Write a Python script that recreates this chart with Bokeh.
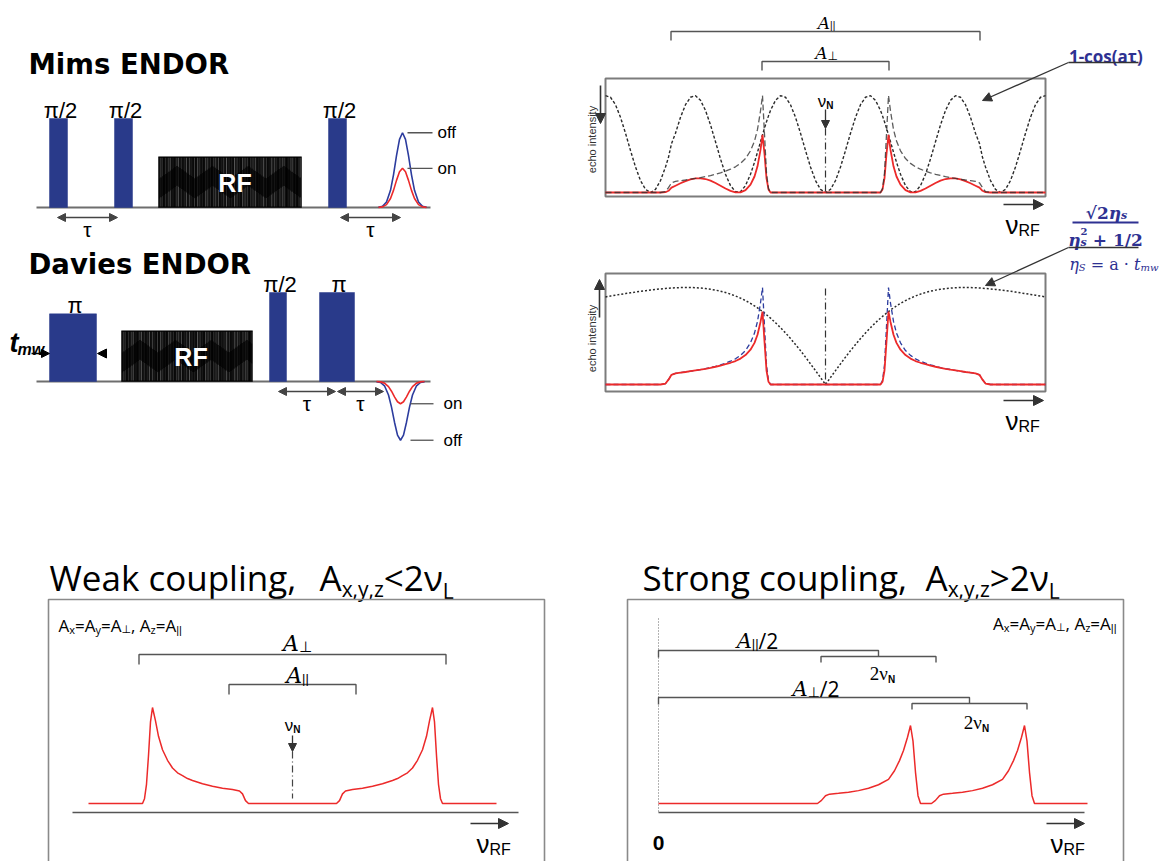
import math
import subprocess
from functools import lru_cache

import numpy as np
from bokeh.plotting import figure
from bokeh.models import Range1d, Arrow, NormalHead
from bokeh.core.properties import value
from bokeh.embed import file_html
from bokeh.resources import INLINE

# ============================== DATA ==============================
# Pulse sequences: time in a.u. from the start of each time axis,
# amplitudes relative to a pi/2 pulse.
MIMS_PULSE_LABEL = ["π/2", "π/2", "π/2"]
MIMS_PULSE_START = [13, 78, 292]
MIMS_PULSE_WIDTH = [18, 18, 18]
MIMS_PULSE_AMP = [1.0, 1.0, 1.0]
MIMS_RF_SPAN = [122, 265]
MIMS_RF_AMP = 0.57
MIMS_ECHO_TIME = 366
MIMS_ECHO_AMP = {"off": 0.84, "on": 0.44}
MIMS_TAU = [[21, 81], [304, 364]]

DAVIES_PULSE_LABEL = ["π", "π/2", "π"]
DAVIES_PULSE_START = [13, 233, 283]
DAVIES_PULSE_WIDTH = [47, 17, 35]
DAVIES_PULSE_AMP = [0.76, 1.0, 1.0]
DAVIES_RF_SPAN = [85, 216]
DAVIES_RF_AMP = 0.57
DAVIES_ECHO_TIME = 364
DAVIES_ECHO_AMP = {"off": -0.66, "on": -0.25}
DAVIES_TAU = [[242, 299], [301, 347]]

ECHO_OFFSET = [-24, -20, -16, -12, -9, -6, -3, 0, 3, 6, 9, 12, 16, 20, 24]
ECHO_SHAPE = [0.003, 0.017, 0.073, 0.230, 0.437, 0.693, 0.912, 1.0,
              0.912, 0.693, 0.437, 0.230, 0.073, 0.017, 0.003]

# ENDOR spectra (|nu_RF - nu_N| in MHz, intensities normalised)
OFFSET_MHZ = [0.0, 0.5, 1.0, 1.5, 2.0, 2.5, 3.0, 3.5, 4.0, 4.5, 5.0, 5.5, 5.7, 5.9,
              6.1, 6.3, 6.5, 6.8, 7.1, 7.5, 8.0, 8.5, 9.0, 9.5, 10.0, 10.5, 11.0,
              11.5, 12.0, 12.5, 13.0, 13.5, 14.0, 14.5, 15.0, 15.4, 15.7, 16.0,
              16.5, 17.0, 17.5, 18.0, 18.5, 19.0, 19.5, 20.0, 20.5, 21.0, 21.5, 22.0]
POWDER = [0, 0, 0, 0, 0, 0, 0, 0, 0, 0, 0, 0.0, 0.04, 0.20, 0.60, 1.00, 0.84, 0.65,
          0.53, 0.43, 0.35, 0.30, 0.265, 0.24, 0.22, 0.203, 0.188, 0.175, 0.164,
          0.154, 0.145, 0.137, 0.129, 0.122, 0.115, 0.10, 0.05, 0.01,
          0, 0, 0, 0, 0, 0, 0, 0, 0, 0, 0, 0]
MIMS_FILTER = [0, 0.032, 0.123, 0.263, 0.433, 0.611, 0.775, 0.905, 0.982, 0.998, 0.950,
               0.846, 0.790, 0.729, 0.663, 0.594, 0.523, 0.415, 0.312, 0.188, 0.071,
               0.008, 0.008, 0.071, 0.188, 0.346, 0.523, 0.697, 0.846, 0.950, 0.998,
               0.982, 0.905, 0.775, 0.611, 0.504, 0.363, 0.263, 0.123, 0.032, 0,
               0.032, 0.123, 0.263, 0.433, 0.611, 0.775, 0.905, 0.982, 0.998]
MIMS_ENDOR = [0, 0, 0, 0, 0, 0, 0, 0, 0, 0, 0, 0,
              0.032, 0.146, 0.398, 0.594, 0.439, 0.270, 0.165, 0.081, 0.025, 0.002,
              0.002, 0.017, 0.041, 0.070, 0.098, 0.122, 0.139, 0.146, 0.145, 0.135,
              0.117, 0.095, 0.070, 0.050, 0.018, 0.003,
              0, 0, 0, 0, 0, 0, 0, 0, 0, 0, 0, 0]
DAVIES_FILTER = [0, 0.072, 0.143, 0.213, 0.282, 0.349, 0.412, 0.474, 0.532, 0.586,
                 0.637, 0.684, 0.702, 0.719, 0.736, 0.752, 0.768, 0.790, 0.810, 0.836,
                 0.865, 0.890, 0.913, 0.932, 0.948, 0.962, 0.973, 0.982, 0.989, 0.994,
                 0.998, 1.0, 1.0, 0.999, 0.997, 0.995, 0.993, 0.990, 0.985, 0.980,
                 0.974, 0.967, 0.961, 0.953, 0.945, 0.937, 0.929, 0.921, 0.912, 0.903]
DAVIES_ENDOR = [0, 0, 0, 0, 0, 0, 0, 0, 0, 0, 0, 0,
                0.028, 0.144, 0.442, 0.752, 0.645, 0.513, 0.429, 0.359, 0.303, 0.267,
                0.242, 0.224, 0.209, 0.195, 0.183, 0.172, 0.162, 0.153, 0.145, 0.137,
                0.129, 0.122, 0.115, 0.0995, 0.050, 0.010,
                0, 0, 0, 0, 0, 0, 0, 0, 0, 0, 0, 0]
MIMS_A_PAR_HALF = 15.45
MIMS_A_PERP_HALF = 6.35

WEAK_OFFSET = [0, 4.4, 4.7, 5.0, 5.3, 6, 7, 8, 9, 10, 10.5, 11, 11.5, 12, 12.5, 13,
               13.4, 13.7, 14.0, 14.2, 14.4, 14.6, 14.8, 15.0, 20.4]
WEAK_ENDOR = [0, 0, 0.03, 0.10, 0.13, 0.145, 0.16, 0.18, 0.205, 0.24, 0.26, 0.29,
              0.32, 0.37, 0.45, 0.56, 0.70, 0.86, 1.0, 0.85, 0.5, 0.2, 0.05, 0, 0]
WEAK_A_PERP_HALF = 15.35
WEAK_A_PAR_HALF = 6.35

STRONG_FREQ = [0, 15.9, 16.3, 16.7, 17.1, 18, 19, 20, 21, 22, 23, 23.6, 24.1, 24.5,
               24.9, 25.2, 25.45, 25.7, 25.95, 26.2,
               27.3, 27.7, 28.1, 28.5, 29.4, 30.4, 31.4, 32.4, 33.4, 34.4, 35.0, 35.5,
               35.9, 36.3, 36.6, 36.85, 37.1, 37.35, 37.6, 42.9]
STRONG_ENDOR = [0, 0, 0.04, 0.10, 0.12, 0.13, 0.145, 0.165, 0.195, 0.24, 0.31, 0.42,
                0.55, 0.68, 0.85, 1.0, 0.8, 0.4, 0.1, 0,
                0, 0.04, 0.10, 0.12, 0.13, 0.145, 0.165, 0.195, 0.24, 0.31, 0.42, 0.55,
                0.68, 0.85, 1.0, 0.8, 0.4, 0.1, 0, 0]
STRONG_A_PAR_HALF = 22.0
STRONG_A_PERP_HALF = 31.1
STRONG_NU_N = 5.75

# ============================== STYLE ==============================
NAVY = "#293a8a"
RED = "#ec2a2a"
BLUE = "#2c3c9e"
TXT_BLUE = "#2e3192"
INK = "#333333"
FRAME = "#7c7c7c"
PAR = "||"          # "parallel" subscript

W, H = 1162, 861
p = figure(width=W, height=H, x_range=Range1d(0, W), y_range=Range1d(H, 0),
           output_backend="svg", toolbar_location=None, min_border=0,
           x_axis_location=None, y_axis_location=None)
p.grid.visible = False
p.outline_line_color = None
p.background_fill_color = "white"
p.border_fill_color = "white"

try:
    from PIL import ImageFont
except Exception:
    ImageFont = None


@lru_cache(maxsize=None)
def _font(fam, bold, italic):
    if ImageFont is None:
        return None
    pat = fam + (":bold" if bold else "") + (":italic" if italic else "")
    try:
        path = subprocess.run(["fc-match", "-f", "%{file}", pat], capture_output=True,
                              text=True, timeout=10).stdout.strip()
        if not path:
            return None
        return ImageFont.truetype(path, 100)
    except Exception:
        return None


def tw(s, fam, size, style="normal"):
    f = _font(fam, "bold" in style, "italic" in style)
    if f is None:
        return 0.56 * size * len(s)
    return f.getlength(s) * size / 100.0


def put(x, y, s, size, fam="Liberation Sans", style="normal", color="black",
        align="left", baseline="alphabetic", angle=0.0):
    p.text(x=[x], y=[y], text=[s], text_font=value(fam), text_font_size=f"{size:.1f}px",
           text_font_style=style, text_color=color, text_align=align,
           text_baseline=baseline, angle=angle)


def P(t, size, fam="Liberation Sans", style="normal", dy=0.0, color="black", adv=True):
    return dict(t=t, size=size, fam=fam, style=style, dy=dy, color=color, adv=adv)


def runs(x, y, parts, align="left"):
    ws = [tw(q["t"], q["fam"], q["size"], q["style"]) for q in parts]
    total = sum(w for w, q in zip(ws, parts) if q["adv"])
    if align == "center":
        x -= total / 2
    elif align == "right":
        x -= total
    cx = x
    for w, q in zip(ws, parts):
        lead = len(q["t"]) - len(q["t"].lstrip(" "))
        off = tw(" " * lead, q["fam"], q["size"], q["style"]) if lead else 0
        txt = q["t"].strip(" ")
        if txt:
            put(cx + off, y + q["dy"], txt, q["size"], q["fam"], q["style"], q["color"])
        if q["adv"]:
            cx += w


def arrow(x0, y0, x1, y1, size=8, both=False, width=1.5, color=INK, shaft=True):
    head = dict(size=size, fill_color=color, line_color=color, line_width=1)
    a = Arrow(x_start=x0, y_start=y0, x_end=x1, y_end=y1, end=NormalHead(**head),
              start=NormalHead(**head) if both else None,
              line_color=color, line_width=width, line_alpha=1.0 if shaft else 0.0)
    p.add_layout(a)


def bracket(x0, x1, y, t0, t1=None, color="#555555", width=1.4):
    t1 = t0 if t1 is None else t1
    p.line([x0, x0, x1, x1], [y + t0, y, y, y + t1], line_color=color, line_width=width)


# ============================== PULSE SEQUENCES ==============================
SEQ_X0, SEQ_X1, SEQ_AMP = 36, 430, 89


def rf_block(x0, x1, ytop, ybot):
    p.quad(left=[x0], right=[x1], top=[ytop], bottom=[ybot], fill_color="black",
           line_color="black", line_width=0.5)
    xs = np.arange(x0 + 0.8, x1 - 0.5, 1.6)
    i = np.arange(len(xs))
    alpha = 0.10 + 0.40 * np.abs(np.sin(i * 1.91) * np.cos(i * 0.53))
    span = ybot - ytop
    env = np.abs(((i * 0.9) % 20) - 10) / 10.0
    top_end = ytop + span * (0.18 + 0.25 * env)
    bot_start = ybot - span * (0.18 + 0.25 * (1 - env))
    p.segment(x0=xs, y0=np.full(len(xs), ytop + 1.0), x1=xs, y1=top_end,
              line_color="#c8c8c8", line_alpha=alpha, line_width=0.9)
    p.segment(x0=xs, y0=bot_start, x1=xs, y1=np.full(len(xs), ybot - 1.0),
              line_color="#c8c8c8", line_alpha=alpha, line_width=0.9)
    p.segment(x0=xs, y0=top_end, x1=xs, y1=bot_start,
              line_color="#9a9a9a", line_alpha=alpha * 0.45, line_width=0.9)


def sequence(y0, labels, starts, widths, amps, rf_span, rf_amp, rf_txt_dx, echo_t,
             echo_amp, lead, taus):
    p.line([SEQ_X0, SEQ_X1], [y0, y0], line_color="#6e6e6e", line_width=2)
    left = [SEQ_X0 + s for s in starts]
    right = [SEQ_X0 + s + w for s, w in zip(starts, widths)]
    top = [y0 - a * SEQ_AMP for a in amps]
    p.quad(left=left, right=right, top=top, bottom=[y0] * len(left),
           fill_color=NAVY, line_color=NAVY, line_width=0.5)
    for lab, l, r, t in zip(labels, left, right, top):
        put((l + r) / 2 + 2, t - 8, lab, 22, "Liberation Sans", align="center")
    rx0, rx1 = SEQ_X0 + rf_span[0], SEQ_X0 + rf_span[1]
    rtop = y0 - rf_amp * SEQ_AMP
    rf_block(rx0, rx1, rtop, y0)
    put((rx0 + rx1) / 2 + rf_txt_dx, (rtop + y0) / 2 + 1, "RF", 25, "Liberation Sans",
        "bold", "white", align="center", baseline="middle")
    ex = SEQ_X0 + echo_t
    for key, col in (("off", BLUE), ("on", RED)):
        xs = [ex + o for o in ECHO_OFFSET]
        ys = [y0 - echo_amp[key] * v * SEQ_AMP for v in ECHO_SHAPE]
        p.line(xs, ys, line_color=col, line_width=1.6)
    for key in ("off", "on"):
        yp = y0 - echo_amp[key] * SEQ_AMP
        p.line([ex + lead[0], ex + lead[1]], [yp, yp], line_color="#555555", line_width=1.3)
        put(ex + lead[2], yp, key, 17, "Liberation Sans", baseline="middle")
    for a, b in taus:
        arrow(SEQ_X0 + a, y0 + 10, SEQ_X0 + b, y0 + 10, size=8, both=True, width=1.5,
              color="#444444")
        put(SEQ_X0 + (a + b) / 2, y0 + 22, "τ", 21, "Liberation Sans", align="center",
            baseline="middle")


put(28, 63, "Mims ENDOR", 27.5, "DejaVu Sans", "bold")
put(28, 263, "Davies ENDOR", 27.5, "DejaVu Sans", "bold")

sequence(207, MIMS_PULSE_LABEL, MIMS_PULSE_START, MIMS_PULSE_WIDTH, MIMS_PULSE_AMP,
         MIMS_RF_SPAN, MIMS_RF_AMP, 5, MIMS_ECHO_TIME, MIMS_ECHO_AMP, (5, 30, 35), MIMS_TAU)
sequence(381, DAVIES_PULSE_LABEL, DAVIES_PULSE_START, DAVIES_PULSE_WIDTH, DAVIES_PULSE_AMP,
         DAVIES_RF_SPAN, DAVIES_RF_AMP, 4, DAVIES_ECHO_TIME, DAVIES_ECHO_AMP, (10, 33, 43),
         DAVIES_TAU)

# t_mw marker on the Davies preparation pulse
put(9, 342, "t", 27, "Liberation Sans", "bold italic")
put(17, 349, "mw", 16, "Liberation Sans", "bold italic")
arrow(31, 353, 49, 353, size=8, width=1.5, color="black")
arrow(108, 353, 97, 353, size=9, width=1.0, color="black", shaft=False)

# ============================== SPECTRA (Mims / Davies) ==============================


def mirror(d, v):
    return [-x for x in reversed(d)] + list(d), list(reversed(v)) + list(v)


def spec_line(cx, base, sx, sy, d, v, **kw):
    xs, ys = mirror(d, v)
    p.line([cx + x * sx for x in xs], [base - y * sy for y in ys], **kw)


SPEC_CX, SPEC_SX, SPEC_SY = 825, 10, 97

# Mims panel
p.quad(left=[605], right=[1045], top=[78], bottom=[196], fill_color=None,
       line_color=FRAME, line_width=2)
spec_line(SPEC_CX, 192, SPEC_SX, SPEC_SY, OFFSET_MHZ, MIMS_FILTER,
          line_color="#2a2a2a", line_width=1.4, line_dash="3 2")
spec_line(SPEC_CX, 192, SPEC_SX, SPEC_SY, OFFSET_MHZ, MIMS_ENDOR,
          line_color=RED, line_width=1.8)
spec_line(SPEC_CX, 192, SPEC_SX, SPEC_SY, OFFSET_MHZ, POWDER,
          line_color=INK, line_width=1.3, line_dash="6 3", line_alpha=0.8)
p.line([SPEC_CX, SPEC_CX], [128, 192], line_color=INK, line_width=1.2, line_dash="7 3 1 3")
arrow(SPEC_CX, 109, SPEC_CX, 128, size=8, width=1.3)
runs(SPEC_CX, 101, [P("ν", 17), P("N", 10, style="bold", dy=4)], align="center")
bracket(SPEC_CX - MIMS_A_PAR_HALF * SPEC_SX, SPEC_CX + MIMS_A_PAR_HALF * SPEC_SX, 31, 9)
bracket(SPEC_CX - MIMS_A_PERP_HALF * SPEC_SX, SPEC_CX + MIMS_A_PERP_HALF * SPEC_SX, 61, 9)
runs(SPEC_CX + 1, 22, [P("A", 17, "DejaVu Serif", "italic"), P(PAR, 10, dy=3)],
     align="center")
runs(SPEC_CX + 1, 52, [P("A", 17, "DejaVu Serif", "italic"), P("⊥", 12, "DejaVu Sans", dy=3)],
     align="center")
put(591, 139, "echo intensity", 11, "Liberation Sans", color=INK, align="center",
    baseline="middle", angle=math.pi / 2)
arrow(600, 85, 600, 123, size=10, width=1.6)
arrow(1003, 204, 1043, 204, size=10, width=1.5)
runs(1005, 224, [P("ν", 26), P("RF", 16, dy=6)])

runs(1103, 56, [P("1-cos(aτ)", 17, "Open Sans", "bold", color=TXT_BLUE)], align="center")
p.line([1068, 1138], [62, 62], line_color=INK, line_width=1.4)
arrow(1068, 62, 982, 100, size=9, width=1.3)

# Davies panel
p.quad(left=[605], right=[1045], top=[273], bottom=[391], fill_color=None,
       line_color=FRAME, line_width=2)
spec_line(SPEC_CX, 384, SPEC_SX, SPEC_SY, OFFSET_MHZ, DAVIES_FILTER,
          line_color="#2a2a2a", line_width=1.5, line_dash="2 2")
spec_line(SPEC_CX, 384, SPEC_SX, SPEC_SY, OFFSET_MHZ, POWDER,
          line_color=BLUE, line_width=1.3, line_dash="5 3")
spec_line(SPEC_CX, 384, SPEC_SX, SPEC_SY, OFFSET_MHZ, DAVIES_ENDOR,
          line_color=RED, line_width=1.8)
p.line([SPEC_CX, SPEC_CX], [288, 384], line_color=INK, line_width=1.2, line_dash="7 3 1 3")
put(591, 338, "echo intensity", 11, "Liberation Sans", color=INK, align="center",
    baseline="middle", angle=math.pi / 2)
arrow(599, 317, 599, 279, size=10, width=1.6)
arrow(1003, 400, 1043, 400, size=10, width=1.5)
runs(1005, 420, [P("ν", 26), P("RF", 16, dy=6)])

runs(1106, 212, [P("√2", 17, "DejaVu Serif", "bold", color=TXT_BLUE),
                 P("η", 17, "DejaVu Serif", "bold italic", color=TXT_BLUE),
                 P("s", 11, "DejaVu Serif", "bold italic", dy=3, color=TXT_BLUE)],
     align="center")
p.line([1072, 1138], [222, 222], line_color=TXT_BLUE, line_width=2)
runs(1105, 239, [P("η", 17, "DejaVu Serif", "bold italic", color=TXT_BLUE),
                 P("2", 10, "DejaVu Serif", "bold", dy=-8, color=TXT_BLUE, adv=False),
                 P("s", 11, "DejaVu Serif", "bold italic", dy=3, color=TXT_BLUE),
                 P(" + 1/2", 17, "DejaVu Serif", "bold", color=TXT_BLUE)],
     align="center")
p.line([1068, 1138], [247, 247], line_color=INK, line_width=1.4)
arrow(1068, 247, 985, 285, size=9, width=1.3)
runs(1158, 264, [P("η", 16, "DejaVu Serif", "italic", color=TXT_BLUE),
                 P("S", 10, "DejaVu Serif", "italic", dy=3, color=TXT_BLUE),
                 P(" = a · ", 16, "DejaVu Serif", color=TXT_BLUE),
                 P("t", 16, "DejaVu Serif", "italic", color=TXT_BLUE),
                 P("mw", 10, "DejaVu Serif", "italic", dy=3, color=TXT_BLUE)],
     align="right")

# ============================== COUPLING REGIMES ==============================
TITLE_FONT = "Open Sans"
runs(49, 577, [P("Weak coupling,", 35, TITLE_FONT)])
runs(319, 577, [P("A", 35, TITLE_FONT), P("x,y,z", 21, TITLE_FONT, dy=11),
                P("<2ν", 35, TITLE_FONT), P("L", 21, TITLE_FONT, dy=13)])
runs(642, 577, [P("Strong coupling,", 35, TITLE_FONT)])
runs(925, 577, [P("A", 35, TITLE_FONT), P("x,y,z", 21, TITLE_FONT, dy=11),
                P(">2ν", 35, TITLE_FONT), P("L", 21, TITLE_FONT, dy=13)])


def tensor_note(x, y, align):
    s, ss = 17, 11
    runs(x, y, [P("A", s, TITLE_FONT), P("x", ss, TITLE_FONT, dy=4), P("=A", s, TITLE_FONT),
                P("y", ss, TITLE_FONT, dy=4), P("=A", s, TITLE_FONT),
                P("⊥", ss, "DejaVu Sans", dy=4), P(", A", s, TITLE_FONT),
                P("z", ss, TITLE_FONT, dy=4), P("=A", s, TITLE_FONT),
                P(PAR, ss, dy=4)], align=align)


# weak coupling panel
WK_CX, WK_BASE, WK_SX, WK_SY = 292, 803, 10, 96
p.quad(left=[48], right=[544], top=[599], bottom=[900], fill_color=None,
       line_color="#8a8a8a", line_width=1.6)
tensor_note(58, 625, "left")
p.line([72, 518], [812, 812], line_color="#555555", line_width=1.6)
spec_line(WK_CX, WK_BASE, WK_SX, WK_SY, WEAK_OFFSET, WEAK_ENDOR, line_color=RED,
          line_width=1.5)
bracket(WK_CX - WEAK_A_PERP_HALF * WK_SX, WK_CX + WEAK_A_PERP_HALF * WK_SX, 654, 10)
bracket(WK_CX - WEAK_A_PAR_HALF * WK_SX, WK_CX + WEAK_A_PAR_HALF * WK_SX, 684, 10)
runs(WK_CX + 5, 643, [P("A", 22, "DejaVu Serif", "italic"), P("⊥", 15, "DejaVu Sans", dy=3)],
     align="center")
runs(WK_CX + 5, 675, [P("A", 22, "DejaVu Serif", "italic"), P(PAR, 13, dy=3)],
     align="center")
runs(WK_CX, 725, [P("ν", 17), P("N", 10, style="bold", dy=4)], align="center")
arrow(WK_CX, 735, WK_CX, 751, size=8, width=1.3)
p.line([WK_CX, WK_CX], [751, 798], line_color="#444444", line_width=1.2, line_dash="7 3 1 3")
arrow(470, 823, 508, 823, size=10, width=1.5)
runs(476, 843, [P("ν", 26), P("RF", 16, dy=6)])

# strong coupling panel
ST_X0, ST_BASE, ST_SX, ST_SY = 658, 803, 10, 78
p.quad(left=[627], right=[1123], top=[599], bottom=[900], fill_color=None,
       line_color="#8a8a8a", line_width=1.6)
tensor_note(1116, 623, "right")
p.line([ST_X0, ST_X0], [618, 812], line_color="#666666", line_width=1.0, line_dash="1 2")
p.line([ST_X0, 1084], [812, 812], line_color="#555555", line_width=1.6)
p.line([ST_X0 + f * ST_SX for f in STRONG_FREQ], [ST_BASE - v * ST_SY for v in STRONG_ENDOR],
       line_color=RED, line_width=1.5)
xa = ST_X0 + STRONG_A_PAR_HALF * ST_SX
xp = ST_X0 + STRONG_A_PERP_HALF * ST_SX
dn = STRONG_NU_N * ST_SX
bracket(ST_X0, xa, 650, 7, 6)
bracket(xa - dn, xa + dn, 656, 6)
bracket(ST_X0, xp, 697, 7, 6)
bracket(xp - dn, xp + dn, 703, 6)
runs((ST_X0 + xa) / 2 - 11, 640, [P("A", 21, "DejaVu Serif", "italic"),
                                  P(PAR, 13, dy=3), P("/2", 21, TITLE_FONT)],
     align="center")
runs((ST_X0 + xp) / 2 + 2, 688, [P("A", 21, "DejaVu Serif", "italic"),
                                 P("⊥", 14, "DejaVu Sans", dy=3), P("/2", 21, TITLE_FONT)],
     align="center")
runs(xa + 4, 673, [P("2ν", 19, "Liberation Serif"), P("N", 10, style="bold", dy=6)],
     align="center")
runs(xp + 7, 722, [P("2ν", 19, "Liberation Serif"), P("N", 10, style="bold", dy=6)],
     align="center")
put(ST_X0, 842, "0", 21, "Liberation Sans", "bold", align="center")
arrow(1046, 823, 1084, 823, size=10, width=1.5)
runs(1050, 843, [P("ν", 26), P("RF", 16, dy=6)])

open("out.html", "w").write(file_html(p, INLINE, title="ENDOR"))
